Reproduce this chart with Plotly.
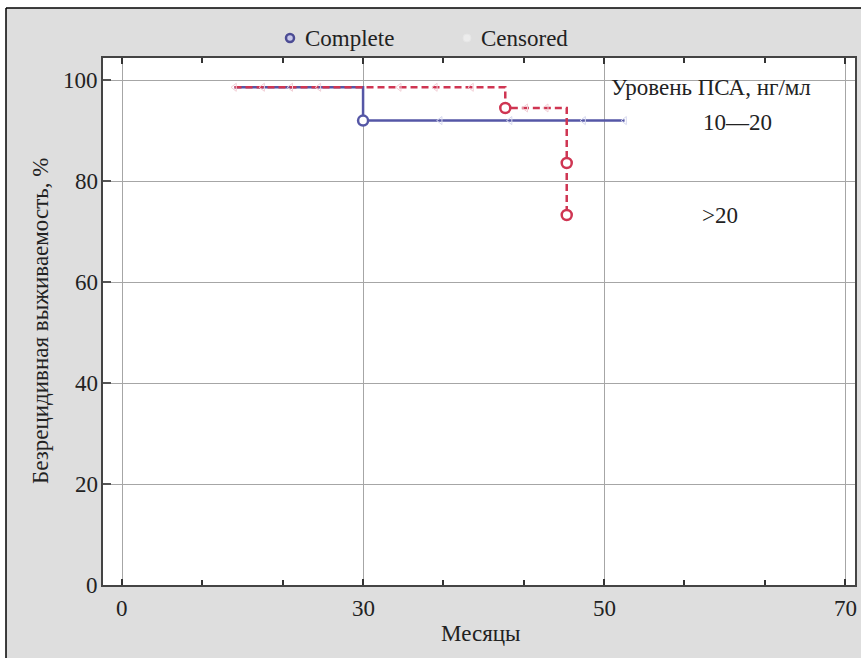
import numpy as np
import plotly.graph_objects as go
import plotly.io as pio

pio.templates.default = "none"

# ---- data (months, survival %) ----
TICK_MONTHS = [0, 30, 50, 70]
TICK_LABELS = ["0", "30", "50", "70"]
Y_TICKS = [0, 20, 40, 60, 80, 100]

# group 10-20 ng/ml (blue)
BLUE_T = [14.0, 30.0, 51.7]
BLUE_S = [98.6, 92.0, 92.0]
BLUE_EVENT_T = [30.0]
BLUE_EVENT_S = [92.0]
BLUE_CENS_T = [36.4, 42.2, 48.3, 51.7]
BLUE_CENS_S = [92.0, 92.0, 92.0, 92.0]

# group >20 ng/ml (red)
RED_T = [14.0, 41.8, 46.9, 46.9]
RED_S = [98.6, 94.5, 83.6, 73.3]
RED_EVENT_T = [41.8, 46.9, 46.9]
RED_EVENT_S = [94.5, 83.6, 73.3]
RED_CENS_T = [14.0, 17.5, 21.0, 24.5, 33.0, 36.0, 39.0, 43.5, 45.2]
RED_CENS_S = [98.6, 98.6, 98.6, 98.6, 98.6, 98.6, 98.6, 94.5, 94.5]

LEGEND_LABELS = ["Complete", "Censored"]

BLUE = "#5557a6"
RED = "#cf3552"
FONT = "Liberation Serif, Times New Roman, serif"
FS = 23

# the printed month axis has evenly spaced gridlines labelled 0, 30, 50, 70
TICK_POS = np.arange(len(TICK_MONTHS), dtype=float)


def pos(months):
    return np.interp(months, TICK_MONTHS, TICK_POS)


fig = go.Figure()

fig.add_trace(go.Scatter(x=pos(BLUE_T), y=BLUE_S, mode="lines", line_shape="hv",
                         line=dict(color=BLUE, width=2.5), hoverinfo="skip"))
fig.add_trace(go.Scatter(x=pos(BLUE_CENS_T), y=BLUE_CENS_S, mode="markers",
                         marker=dict(symbol="triangle-left-open", size=7, color="#d6d8ee",
                                     line=dict(width=1))))
fig.add_trace(go.Scatter(x=pos(RED_T), y=RED_S, mode="lines", line_shape="hv",
                         line=dict(color=RED, width=2.5, dash="7px,4px"), hoverinfo="skip"))
fig.add_trace(go.Scatter(x=pos(RED_CENS_T), y=RED_CENS_S, mode="markers",
                         marker=dict(symbol="triangle-left-open", size=7, color="#f2cfd6",
                                     line=dict(width=1))))
fig.add_trace(go.Scatter(x=pos(BLUE_EVENT_T), y=BLUE_EVENT_S, mode="markers",
                         marker=dict(symbol="circle", size=10, color="white",
                                     line=dict(color=BLUE, width=2.5))))
fig.add_trace(go.Scatter(x=pos(RED_EVENT_T), y=RED_EVENT_S, mode="markers",
                         marker=dict(symbol="circle", size=10, color="white",
                                     line=dict(color=RED, width=2.5))))

L, R, T, B = 103, 6, 58, 73
W, H = 861, 658
PW, PH = W - L - R, H - T - B


def px(x):
    return (x - L) / PW


def py(y):
    return (H - B - y) / PH


shapes = [
    dict(type="rect", xref="paper", yref="paper", x0=-0.3, x1=1.3, y0=py(8), y1=1.3,
         fillcolor="white", line=dict(width=0), layer="below"),
    dict(type="rect", xref="paper", yref="paper", x0=-0.3, x1=px(6), y0=-0.3, y1=1.3,
         fillcolor="white", line=dict(width=0), layer="below"),
    dict(type="line", xref="paper", yref="paper", x0=px(6), x1=1.3, y0=py(8), y1=py(8),
         line=dict(color="black", width=1.5)),
    dict(type="line", xref="paper", yref="paper", x0=px(6), x1=px(6), y0=-0.3, y1=py(8),
         line=dict(color="black", width=1.5)),
    # legend symbols
    dict(type="circle", xref="paper", yref="paper", x0=px(286), x1=px(294), y0=py(42), y1=py(34),
         fillcolor="#c8c8ea", line=dict(color="#4c4c94", width=2.5)),
    dict(type="circle", xref="paper", yref="paper", x0=px(463), x1=px(471), y0=py(42), y1=py(34),
         fillcolor="#ececec", line=dict(color="#e6e6e6", width=1)),
]

TXT = dict(family=FONT, size=FS, color="#222")


def note(text, **kw):
    d = dict(text=text, showarrow=False, font=TXT)
    d.update(kw)
    return d


annotations = [
    note("Уровень ПСА, нг/мл", xref="paper", yref="paper", x=px(609), y=py(88),
         xanchor="left", yanchor="middle"),
    note("10—20", xref="paper", yref="paper", x=px(737), y=py(122), xanchor="center", yanchor="middle"),
    note(">20", xref="paper", yref="paper", x=px(720), y=py(215), xanchor="center", yanchor="middle"),
    # axis titles
    note("Месяцы", xref="paper", yref="paper", x=px(480), y=py(633), xanchor="center", yanchor="middle"),
    note("Безрецидивная выживаемость, %", xref="paper", yref="paper", x=px(40), y=py(321),
         xanchor="center", yanchor="middle", textangle=-90),
    # legend labels
    note(LEGEND_LABELS[0], xref="paper", yref="paper", x=px(303), y=py(38), xanchor="left", yanchor="middle"),
    note(LEGEND_LABELS[1], xref="paper", yref="paper", x=px(479), y=py(38), xanchor="left", yanchor="middle"),
]
# tick labels placed through the axes
for m, lab in zip(TICK_MONTHS, TICK_LABELS):
    annotations.append(note(lab, xref="x", yref="paper", x=float(pos(m)), y=0,
                            xanchor="center", yanchor="middle", yshift=-23))
for v in Y_TICKS:
    annotations.append(note(str(v), xref="paper", yref="y", x=0, y=v,
                            xanchor="right", yanchor="middle", xshift=-3))

fig.update_layout(
    width=W, height=H,
    margin=dict(l=L, r=R, t=T, b=B, pad=0),
    paper_bgcolor="#dedede",
    plot_bgcolor="white",
    font=TXT,
    showlegend=False,
    shapes=shapes,
    annotations=annotations,
    xaxis=dict(
        range=[pos(0) - 0.079, pos(70) + 0.041],
        tickmode="array", tickvals=pos(TICK_MONTHS), showticklabels=False,
        ticks="inside", ticklen=6, tickcolor="#333", tickwidth=2,
        showgrid=True, gridcolor="#a6a6a6", gridwidth=1.3,
        showline=True, linecolor="#444", linewidth=2, mirror="ticks",
        minor=dict(tickmode="linear", tick0=0, dtick=1 / 3, ticks="inside", ticklen=5,
                   tickcolor="#333", tickwidth=2, showgrid=False),
        zeroline=False, automargin=False,
    ),
    yaxis=dict(
        range=[0, 104.4],
        tickmode="array", tickvals=Y_TICKS, showticklabels=False,
        ticks="inside", ticklen=8, tickcolor="#555", tickwidth=1.5,
        showgrid=True, gridcolor="#a6a6a6", gridwidth=1.3,
        showline=True, linecolor="#444", linewidth=2, mirror=True,
        zeroline=False, automargin=False,
    ),
)

fig.write_html("out.html")
